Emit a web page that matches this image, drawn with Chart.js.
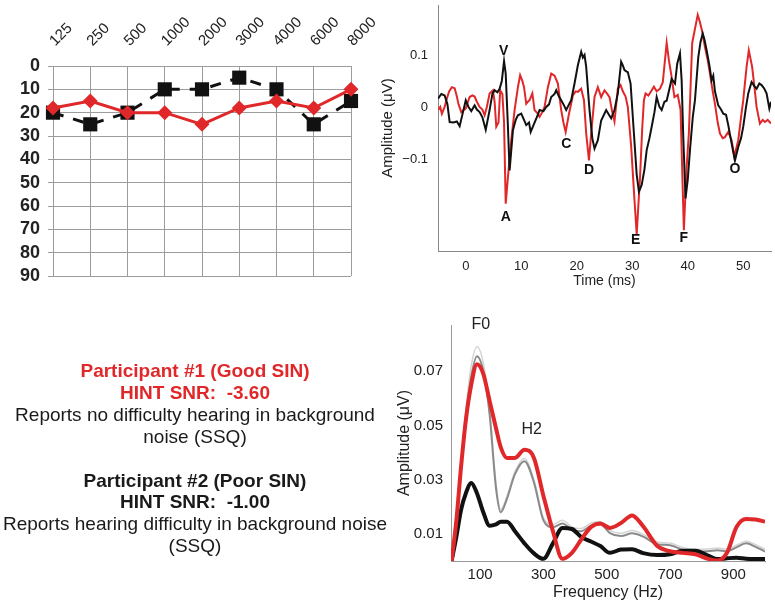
<!DOCTYPE html>
<html><head><meta charset="utf-8">
<script src="https://cdn.jsdelivr.net/npm/chart.js@4/dist/chart.umd.min.js"></script>
<style>
body{margin:0;background:#fff;width:775px;height:608px;overflow:hidden;position:relative;font-family:"Liberation Sans",Arial,sans-serif;}
canvas{position:absolute;}
#txt{position:absolute;left:0;top:360px;width:390px;text-align:center;font-size:19px;line-height:21.9px;color:#1a1a1a;}
.r{color:#e0282a;font-weight:bold;}
.b{font-weight:bold;}
</style></head><body>
<canvas id="aud" width="375" height="300" style="left:0;top:0"></canvas>
<canvas id="abr" width="400" height="300" style="left:375px;top:0"></canvas>
<canvas id="ffr" width="390" height="308" style="left:385px;top:300px"></canvas>
<div id="txt">
<div class="r">Participant #1 (Good SIN)</div>
<div class="r">HINT SNR:&nbsp; -3.60</div>
<div>Reports no difficulty hearing in background</div>
<div>noise (SSQ)</div>
<div>&nbsp;</div>
<div class="b">Participant #2 (Poor SIN)</div>
<div class="b">HINT SNR:&nbsp; -1.00</div>
<div>Reports hearing difficulty in background noise</div>
<div>(SSQ)</div>
</div>
<script>
// ---------- Audiogram ----------
const audioFreqs = ['125','250','500','1000','2000','3000','4000','6000','8000'];
const redHL   = [18, 15, 20, 20, 25, 18, 15, 18, 10];
const blackHL = [20, 25, 20, 10, 10, 5, 10, 25, 15];
const hlTicks = [0,10,20,30,40,50,60,70,80,90];

// ---------- ABR waveform (time ms, amplitude µV) ----------
const abrRedT = [-5.0,-4.6,-4.3,-3.8,-3.5,-3.0,-2.5,-2.0,-1.6,-1.3,-0.8,-0.3,0,0.4,0.7,1.2,1.6,2.0,2.5,3.0,3.4,3.8,4.3,4.9,5.2,5.5,5.9,6.2,6.6,6.9,7.2,7.6,8.2,8.8,9.4,9.8,10.2,10.5,10.9,11.2,11.5,12.0,12.4,12.9,13.3,13.8,14.2,14.8,15.4,16.0,16.6,17.2,17.6,18.0,18.6,19.3,19.8,20.2,20.8,21.3,21.7,22.2,22.6,23.2,23.8,24.4,25.0,25.5,25.9,26.4,26.8,27.4,27.9,28.3,28.8,29.2,29.8,30.4,30.8,31.4,31.8,32.1,32.4,32.9,33.4,33.9,34.4,35.0,35.5,36.2,36.6,37.0,37.6,38.2,38.7,39.3,39.8,40.2,40.8,41.3,41.8,42.2,42.6,43.1,43.6,44.0,44.5,44.9,45.4,45.8,46.3,46.7,47.3,47.9,48.4,49.1,49.6,50.0,50.6,51.0,51.6,52.0,52.4,53.0,53.5,53.9,54.4,55.0];
const abrRedV = [-0.006,0.0,-0.013,0.0,0.013,0.03,0.038,0.036,0.02,0.005,-0.01,-0.005,-0.003,0.01,0.019,0.022,0.02,0.01,0.0,-0.005,-0.016,0.0,0.026,0.032,0.01,-0.038,-0.03,0.032,0.025,-0.03,-0.186,-0.135,-0.064,-0.006,0.038,0.061,0.05,0.038,0.006,0.01,0.013,0.026,-0.006,-0.012,-0.019,-0.01,0.0,0.038,0.064,0.06,0.045,-0.006,-0.03,-0.048,-0.013,0.022,0.03,0.029,0.035,0.013,-0.051,-0.103,-0.051,0.019,0.038,0.019,0.032,0.025,0.019,-0.01,-0.028,0.035,0.042,0.03,0.02,0.0,-0.075,-0.179,-0.244,-0.135,-0.04,0.013,0.026,0.022,0.03,0.039,0.03,0.035,0.047,0.123,0.09,0.064,0.019,0.023,-0.005,-0.237,-0.115,-0.051,0.123,0.15,0.177,0.163,0.145,0.115,0.09,0.064,0.03,0.006,-0.03,-0.051,-0.06,-0.058,-0.048,-0.064,-0.095,-0.064,-0.02,0.013,0.077,0.109,0.077,0.04,0.0,-0.032,-0.025,-0.029,-0.025,-0.032];
const abrBlackT = [-5.0,-4.4,-3.8,-3.3,-2.9,-2.2,-1.6,-1.1,-0.5,0,0.5,1.0,1.6,2.0,2.5,3.0,3.6,4.3,4.8,5.2,5.7,6.1,6.5,6.9,7.2,7.6,7.9,8.5,9.0,9.4,10.0,10.5,10.9,11.4,11.7,12.4,13.0,13.3,14.0,14.5,15.0,15.4,16.0,16.3,16.8,17.2,17.7,18.1,18.6,19.0,19.6,20.2,20.8,21.1,21.4,21.7,22.3,22.8,23.2,23.8,24.4,24.9,25.3,25.8,26.2,26.8,27.4,28.0,28.3,28.6,29.0,29.2,29.7,30.3,30.8,31.2,31.7,32.2,32.6,33.1,33.5,34.0,34.4,34.9,35.3,35.8,36.2,36.6,37.1,37.7,38.1,38.6,38.9,39.2,39.6,40.0,40.4,40.9,41.3,41.9,42.3,42.7,43.0,43.4,43.9,44.3,44.6,44.9,45.5,46.0,46.4,46.9,47.3,47.9,48.5,49.1,49.6,50.0,50.5,50.9,51.5,52.0,52.4,52.9,53.3,53.8,54.2,54.7,55.0];
const abrBlackV = [0.016,0.025,0.022,0.005,-0.029,-0.03,-0.028,-0.037,-0.01,0.013,0.0,-0.008,0.003,-0.005,-0.01,-0.02,-0.044,-0.006,0.025,0.032,0.028,0.035,0.05,0.088,0.064,-0.038,-0.122,-0.045,-0.025,-0.016,-0.013,-0.025,-0.035,-0.03,-0.048,-0.03,-0.015,-0.006,-0.008,0.0,0.005,0.019,0.025,0.032,0.02,0.013,0.003,-0.006,0.005,0.013,0.045,0.08,0.106,0.095,0.1,0.077,-0.006,-0.06,-0.08,-0.064,-0.026,-0.015,-0.006,-0.015,-0.022,-0.006,0.026,0.087,0.08,0.071,0.068,0.067,0.045,-0.051,-0.13,-0.163,-0.15,-0.12,-0.083,-0.06,-0.038,-0.01,0.019,0.0,-0.006,0.01,0.012,0.03,0.054,0.045,0.083,0.103,0.051,-0.06,-0.176,-0.14,-0.083,-0.02,0.013,0.096,0.125,0.141,0.13,0.109,0.08,0.051,0.06,0.03,0.003,-0.005,-0.013,-0.015,-0.035,-0.07,-0.103,-0.077,-0.06,-0.038,0.0,0.026,0.048,0.04,0.035,0.045,0.042,0.035,0.026,-0.003,0.01];
const abrTimeTicks = [0,10,20,30,40,50];
const abrAmpTicks = [-0.1,0,0.1];
const abrPeakNames = ['V','A','C','D','E','F','O'];
const abrPeakT = [6.85,7.2,18.1,22.2,30.6,39.3,48.5];
const abrPeakV = [0.108,-0.212,-0.072,-0.122,-0.256,-0.253,-0.12];

// ---------- FFR spectrum (Hz, µV) ----------
const ffrFreq  = [10,25,40,55,72,90,110,130,150,165,185,210,240,270,300,330,360,390,420,450,480,510,545,580,615,660,700,740,780,820,850,880,910,940,970,1000];
const ffrRed   = [0,0.015,0.035,0.052,0.065,0.0725,0.069,0.059,0.049,0.042,0.038,0.038,0.041,0.038,0.024,0.011,0.0008,0.003,0.008,0.0125,0.0138,0.0122,0.014,0.0168,0.0128,0.0055,0.0036,0.003,0.0025,0.0008,0.0002,0.003,0.0125,0.0155,0.0153,0.0145];
const ffrBlack = [0,0.009,0.019,0.025,0.0288,0.025,0.018,0.013,0.0135,0.0145,0.0145,0.011,0.0065,0.0028,0.0008,0.0065,0.0122,0.0118,0.0088,0.0072,0.0055,0.003,0.0042,0.0043,0.0029,0.0022,0.0025,0.0038,0.0038,0.002,0.0007,0.001,0.0012,0.0008,0.0007,0.0007];
const ffrGray  = [0,0.015,0.035,0.053,0.068,0.0755,0.07,0.054,0.027,0.018,0.023,0.032,0.0368,0.029,0.015,0.0125,0.0138,0.0115,0.011,0.013,0.0135,0.0103,0.0092,0.0102,0.009,0.0062,0.0058,0.0042,0.0035,0.0036,0.004,0.0036,0.005,0.0065,0.0052,0.0035];
const ffrLight = [0,0.016,0.037,0.056,0.072,0.079,0.073,0.056,0.029,0.019,0.024,0.033,0.0378,0.030,0.016,0.0135,0.015,0.0125,0.012,0.014,0.0145,0.0113,0.0102,0.0112,0.0098,0.007,0.0066,0.005,0.0043,0.0044,0.0048,0.0044,0.0058,0.0073,0.006,0.0043];
const ffrFreqTicks = [100,300,500,700,900];
const ffrAmpTicks = [0.01,0.03,0.05,0.07];
const ffrPeakNames = ['F0','H2'];
const ffrPeakHz = [102,263];
const ffrPeakV = [0.0872,0.0485];

const RED = '#e0282a';
const BLK = '#111111';
const FONT = '"Liberation Sans", Arial, sans-serif';
Chart.defaults.font.family = FONT;
Chart.defaults.animation = false;

const annot = {
  id: 'annot',
  afterDatasetsDraw(chart, args, opts) {
    const {ctx, scales} = chart;
    ctx.save();
    ctx.font = opts.font;
    ctx.fillStyle = opts.color;
    ctx.textAlign = 'center';
    ctx.textBaseline = 'middle';
    opts.names.forEach((n, i) => {
      ctx.fillText(n, scales.x.getPixelForValue(opts.xs[i]), scales.y.getPixelForValue(opts.ys[i]));
    });
    ctx.restore();
  }
};
const setTicks = vals => (s => { s.ticks = vals.map(v => ({value: v})); });
const pts = (xs, ys) => xs.map((x, i) => ({x, y: ys[i]}));

// Audiogram
new Chart(document.getElementById('aud'), {
  type: 'line',
  data: {
    labels: audioFreqs,
    datasets: [
      {data: redHL, borderColor: RED, backgroundColor: RED, borderWidth: 3,
       pointStyle: 'rectRot', pointRadius: 7.5, pointBorderWidth: 0, tension: 0},
      {data: blackHL, borderColor: BLK, backgroundColor: BLK, borderWidth: 3, borderDash: [11, 10],
       pointStyle: 'rect', pointRadius: 10, pointBorderWidth: 0, tension: 0}
    ]
  },
  options: {
    responsive: false,
    layout: {padding: {left: 0, right: 24, top: 0, bottom: 24}},
    plugins: {legend: {display: false}, tooltip: {enabled: false}},
    scales: {
      x: {position: 'top', offset: false,
          grid: {color: '#9c9c9c', drawTicks: false, lineWidth: 1},
          border: {color: '#9c9c9c'},
          ticks: {autoSkip: false, minRotation: 45, maxRotation: 45, font: {size: 15}, color: '#222', padding: 16, labelOffset: 12},
          afterFit(s) { s.height = 66; s.paddingLeft = 0; s.paddingRight = 0; }},
      y: {reverse: true, min: 0, max: 90,
          grid: {color: '#9c9c9c', tickLength: 5, lineWidth: 1},
          border: {color: '#9c9c9c'},
          ticks: {autoSkip: false, font: {size: 18, weight: 'bold'}, color: '#222', padding: 8},
          afterBuildTicks: setTicks(hlTicks),
          afterFit(s) { s.width = 53; s.paddingTop = 0; s.paddingBottom = 0; }}
    }
  }
});

// ABR waveforms
new Chart(document.getElementById('abr'), {
  type: 'line',
  data: {
    datasets: [
      {data: pts(abrBlackT, abrBlackV), borderColor: BLK, borderWidth: 2, pointRadius: 0, tension: 0},
      {data: pts(abrRedT, abrRedV), borderColor: RED, borderWidth: 2, pointRadius: 0, tension: 0}
    ]
  },
  options: {
    responsive: false,
    layout: {padding: {left: 0, right: 4, top: 5, bottom: 0}},
    plugins: {legend: {display: false}, tooltip: {enabled: false},
      annot: {names: abrPeakNames, xs: abrPeakT, ys: abrPeakV, font: 'bold 14px ' + FONT, color: '#111'}},
    scales: {
      x: {type: 'linear', min: -5, max: 55,
          grid: {display: false, drawTicks: false}, border: {color: '#888'},
          ticks: {autoSkip: false, font: {size: 13}, color: '#222', padding: 8},
          afterBuildTicks: setTicks(abrTimeTicks),
          title: {display: true, text: 'Time (ms)', font: {size: 14}, color: '#222', padding: {top: 0, bottom: 10}},
          afterFit(s) { s.height = 49; s.paddingLeft = 0; s.paddingRight = 0; }},
      y: {type: 'linear', min: -0.277, max: 0.196,
          grid: {display: false, drawTicks: false}, border: {color: '#888'},
          ticks: {autoSkip: false, font: {size: 13}, color: '#222', padding: 10,
                  callback: v => v === 0 ? '0' : (v < 0 ? '\u2212' : '') + Math.abs(v).toFixed(1)},
          afterBuildTicks: setTicks(abrAmpTicks),
          title: {display: true, text: 'Amplitude (\u03bcV)', font: {size: 15}, color: '#222', padding: {top: 4, bottom: 0}},
          afterFit(s) { s.width = 63; s.paddingTop = 0; s.paddingBottom = 0; }}
    }
  },
  plugins: [annot]
});

// FFR spectrum
new Chart(document.getElementById('ffr'), {
  type: 'line',
  data: {
    datasets: [
      {data: pts(ffrFreq, ffrRed), borderColor: RED, borderWidth: 4, pointRadius: 0, cubicInterpolationMode: 'monotone'},
      {data: pts(ffrFreq, ffrBlack), borderColor: BLK, borderWidth: 4, pointRadius: 0, cubicInterpolationMode: 'monotone'},
      {data: pts(ffrFreq, ffrGray), borderColor: '#8a8a8a', borderWidth: 2, pointRadius: 0, cubicInterpolationMode: 'monotone'},
      {data: pts(ffrFreq, ffrLight), borderColor: '#d4d4d4', borderWidth: 1.5, pointRadius: 0, cubicInterpolationMode: 'monotone'}
    ]
  },
  options: {
    responsive: false,
    layout: {padding: {left: 0, right: 10, top: 25, bottom: 0}},
    plugins: {legend: {display: false}, tooltip: {enabled: false},
      annot: {names: ffrPeakNames, xs: ffrPeakHz, ys: ffrPeakV, font: '16px ' + FONT, color: '#222'}},
    scales: {
      x: {type: 'linear', min: 8, max: 1000,
          grid: {display: false, drawTicks: false}, border: {color: '#999'},
          ticks: {autoSkip: false, font: {size: 15}, color: '#222', padding: 5},
          afterBuildTicks: setTicks(ffrFreqTicks),
          title: {display: true, text: 'Frequency (Hz)', font: {size: 16}, color: '#222', padding: {top: 0, bottom: 5.4}},
          afterFit(s) { s.height = 47; s.paddingLeft = 0; s.paddingRight = 0; }},
      y: {type: 'linear', min: 0, max: 0.087,
          grid: {display: false, drawTicks: false}, border: {color: '#999'},
          ticks: {autoSkip: false, font: {size: 15}, color: '#222', padding: 8, callback: v => v.toFixed(2)},
          afterBuildTicks: setTicks(ffrAmpTicks),
          title: {display: true, text: 'Amplitude (\u03bcV)', font: {size: 16}, color: '#222', padding: {top: 10.4, bottom: 0}},
          afterFit(s) { s.width = 66; s.paddingTop = 0; s.paddingBottom = 0; }}
    }
  },
  plugins: [annot]
});
</script>
</body></html>
